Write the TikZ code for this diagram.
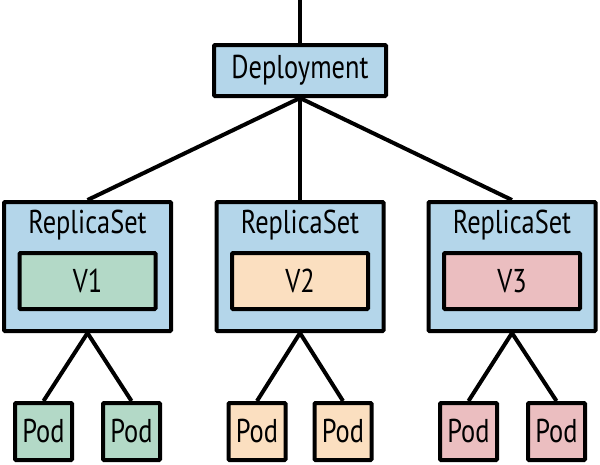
\documentclass[tikz,border=0pt]{standalone}
\usepackage{fontspec}
\setmainfont[FakeStretch=0.8]{PT Sans}
\definecolor{bluefill}{HTML}{B4D6EA}
\definecolor{greenfill}{HTML}{B3D9C7}
\definecolor{peachfill}{HTML}{FBDFC0}
\definecolor{pinkfill}{HTML}{EBBEC0}
\begin{document}
\begin{tikzpicture}[x=1pt,y=-1pt,
  box/.style={draw=black,line width=4pt,rounded corners=1pt,inner sep=0pt,
    font=\fontsize{33}{33}\selectfont},
  depbox/.style={box,fill=bluefill,minimum width=172pt,minimum height=51pt},
  rsbox/.style={box,fill=bluefill,minimum width=167pt,minimum height=129pt},
  vbox/.style={box,minimum width=136pt,minimum height=56pt},
  podbox/.style={box,minimum width=57pt,minimum height=57pt},
  title/.style={inner sep=0pt,font=\fontsize{33}{33}\selectfont},
  conn/.style={line width=4pt}]
\useasboundingbox (0,0) rectangle (600,464);
\coordinate (top) at (300,0);
\node[depbox] (dep) at (300,70.5) {Deployment};
\node[rsbox] (rs1) at (87.5,266.5) {};
\node[rsbox] (rs2) at (300,266.5) {};
\node[rsbox] (rs3) at (512,266.5) {};
\node[title] (t1) at (87.5,225) {ReplicaSet};
\node[title] (t2) at (300,225) {ReplicaSet};
\node[title] (t3) at (512,225) {ReplicaSet};
\node[vbox,fill=greenfill] (v1) at (87.5,281) {V1};
\node[vbox,fill=peachfill] (v2) at (300,281) {V2};
\node[vbox,fill=pinkfill] (v3) at (512,281) {V3};
\node[podbox,fill=greenfill] (p1) at (43.5,431.5) {Pod};
\node[podbox,fill=greenfill] (p2) at (131.5,431.5) {Pod};
\node[podbox,fill=peachfill] (p3) at (257,431.5) {Pod};
\node[podbox,fill=peachfill] (p4) at (343,431.5) {Pod};
\node[podbox,fill=pinkfill] (p5) at (468.5,431.5) {Pod};
\node[podbox,fill=pinkfill] (p6) at (556.5,431.5) {Pod};
\draw[conn] (top) -- (dep.north);
\draw[conn] (dep.south) -- (rs1.north);
\draw[conn] (dep.south) -- (rs2.north);
\draw[conn] (dep.south) -- (rs3.north);
\draw[conn] (rs1.south) -- (p1.north);
\draw[conn] (rs1.south) -- (p2.north);
\draw[conn] (rs2.south) -- (p3.north);
\draw[conn] (rs2.south) -- (p4.north);
\draw[conn] (rs3.south) -- (p5.north);
\draw[conn] (rs3.south) -- (p6.north);
\end{tikzpicture}
\end{document}
